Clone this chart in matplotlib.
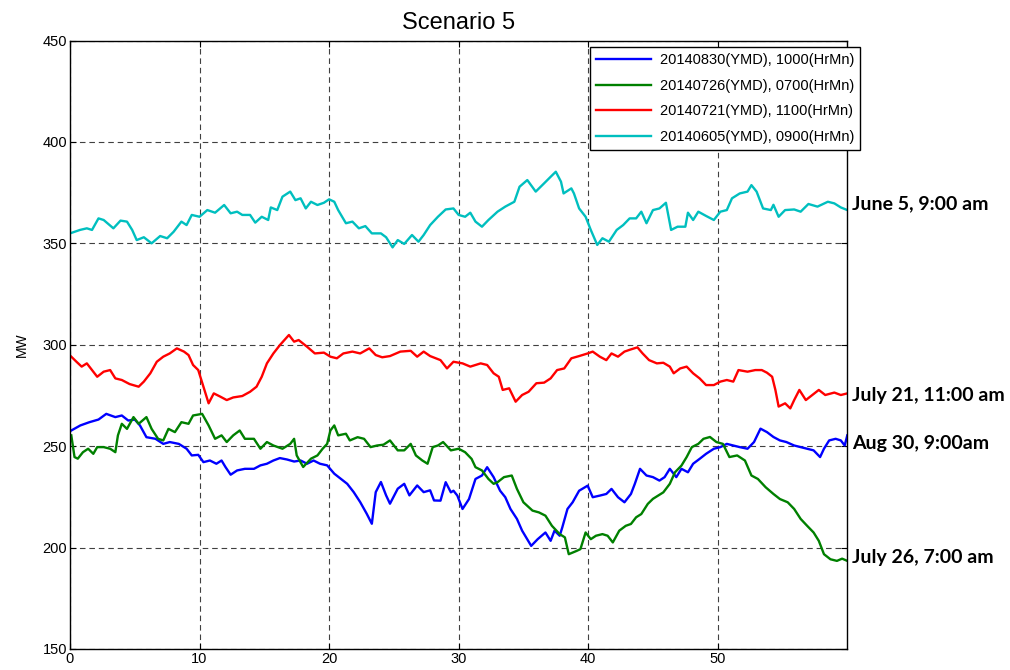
import matplotlib
matplotlib.use("Agg")
import matplotlib.pyplot as plt

# values (x in minutes, y in MW)
aug30_x = [0.1, 0.8, 1.5, 2.2, 2.8, 3.5, 4.0, 4.5, 5.0, 5.4, 5.9, 6.6, 7.2, 7.7, 8.4, 9.0, 9.4, 9.9,
           10.3, 10.8, 11.3, 11.7, 12.0, 12.4, 12.9, 13.5, 14.2, 14.7, 15.2, 15.7, 16.2, 16.75, 17.3,
           17.8, 18.3, 18.8, 19.3, 19.85, 20.4, 20.9, 21.4, 21.9, 22.4, 22.9, 23.3, 23.6, 24.0, 24.4,
           24.7, 25.3, 25.8, 26.2, 26.8, 27.3, 27.8, 28.1, 28.6, 29.0, 29.4, 29.6, 29.9, 30.3, 30.8,
           31.3, 31.8, 32.2, 32.7, 33.2, 33.6, 34.0, 34.5, 34.9, 35.6, 36.1, 36.7, 37.1, 37.4, 37.8,
           38.0, 38.4, 38.8, 39.3, 39.96, 40.35, 40.9, 41.4, 41.8, 42.3, 42.8, 43.3, 43.6, 44.0, 44.5,
           45.0, 45.5, 45.9, 46.3, 46.8, 47.2, 47.7, 48.1, 48.6, 49.1, 49.7, 50.2, 50.7, 51.2, 51.7,
           52.3, 52.8, 53.3, 53.8, 54.3, 54.8, 55.3, 55.9, 56.4, 56.9, 57.4, 57.9, 58.2, 58.6, 59.1,
           59.5, 59.8, 60.0]
aug30_y = [257.7, 260.2, 261.8, 263.1, 265.9, 264.3, 265.1, 262.6, 263.1, 260.2, 254.4, 253.6, 251.1,
           252.0, 251.1, 248.7, 245.4, 245.7, 242.1, 242.9, 241.3, 242.9, 239.7, 235.9, 238.0, 238.8,
           238.8, 240.5, 241.3, 242.9, 244.1, 243.4, 242.4, 242.9, 241.3, 242.9, 241.3, 240.5, 236.4,
           233.9, 231.4, 227.3, 222.4, 216.7, 211.7, 227.3, 232.3, 225.7, 221.6, 229.0, 231.4, 225.7,
           230.6, 227.3, 228.2, 223.2, 223.1, 232.2, 227.2, 228.0, 225.6, 219.0, 223.9, 233.8, 235.5,
           239.6, 234.7, 228.0, 224.8, 219.0, 214.1, 208.3, 200.8, 204.1, 207.4, 203.3, 208.3, 205.8,
           209.9, 219.0, 222.3, 228.0, 230.5, 224.8, 225.6, 226.4, 228.9, 224.8, 222.3, 226.4, 231.4,
           238.8, 235.5, 234.7, 233.0, 234.7, 238.8, 234.7, 238.8, 237.1, 241.3, 243.7, 246.2, 248.7,
           249.5, 251.1, 250.3, 249.5, 248.7, 252.0, 258.6, 256.9, 254.5, 252.8, 252.0, 250.3, 249.5,
           248.7, 247.9, 244.6, 248.7, 252.8, 253.6, 252.8, 250.3, 255.3]

jul26_x = [0.1, 0.35, 0.6, 1.0, 1.4, 1.8, 2.1, 2.6, 3.1, 3.5, 3.7, 4.0, 4.4, 4.9, 5.3, 5.9, 6.3, 6.8,
           7.2, 7.6, 8.1, 8.6, 9.15, 9.5, 10.2, 10.7, 11.2, 11.7, 12.1, 12.6, 13.1, 13.5, 14.2, 14.7,
           15.2, 15.7, 16.4, 17.0, 17.3, 17.5, 18.0, 18.6, 19.1, 19.5, 19.85, 20.1, 20.4, 20.7, 21.3,
           21.6, 22.2, 22.7, 23.2, 23.7, 24.2, 24.7, 25.3, 25.8, 26.3, 26.7, 27.2, 27.6, 28.0, 28.4,
           28.8, 29.4, 30.0, 30.5, 31.0, 31.3, 31.8, 32.3, 32.7, 33.0, 33.5, 34.1, 34.5, 35.0, 35.7,
           36.2, 36.7, 37.2, 37.8, 38.2, 38.5, 39.1, 39.4, 39.8, 40.2, 40.6, 41.1, 41.5, 41.9, 42.4,
           42.9, 43.3, 43.7, 44.1, 44.6, 45.0, 45.4, 45.8, 46.3, 46.7, 47.2, 47.6, 48.0, 48.5, 48.9,
           49.4, 49.9, 50.4, 50.9, 51.5, 52.1, 52.6, 53.1, 53.7, 54.3, 54.8, 55.4, 55.9, 56.4, 56.9,
           57.4, 57.8, 58.2, 58.7, 59.2, 59.6, 60.0]
jul26_y = [255.3, 244.6, 243.8, 247.0, 248.7, 246.2, 249.5, 249.5, 248.7, 247.0, 255.3, 261.0, 258.5,
           264.3, 261.0, 264.3, 258.5, 253.6, 252.8, 258.5, 256.9, 261.8, 261.0, 265.1, 265.9, 260.2,
           253.6, 255.3, 252.0, 255.3, 257.7, 253.6, 253.6, 248.7, 252.0, 250.3, 248.7, 251.1, 253.6,
           245.4, 239.7, 243.8, 245.4, 248.7, 251.1, 257.7, 260.2, 255.3, 256.1, 252.8, 254.4, 253.6,
           249.5, 250.3, 250.7, 252.8, 247.9, 247.9, 251.1, 245.4, 242.9, 241.3, 249.5, 250.3, 252.0,
           247.9, 248.7, 247.0, 243.7, 239.6, 238.0, 233.8, 231.4, 232.2, 234.7, 235.5, 228.9, 222.3,
           218.2, 217.3, 215.7, 210.7, 206.6, 205.0, 196.7, 198.3, 199.2, 207.4, 204.1, 205.8, 206.6,
           205.8, 202.5, 208.3, 210.7, 211.6, 214.9, 216.5, 221.5, 224.0, 225.6, 227.2, 231.4, 237.1,
           240.4, 244.6, 249.5, 251.1, 253.6, 254.5, 252.0, 251.1, 244.6, 245.4, 242.9, 235.5, 233.8,
           229.7, 226.4, 223.9, 222.3, 219.0, 214.1, 210.7, 207.4, 203.3, 196.7, 194.2, 193.4, 194.5,
           193.4]

jul21_x = [0.1, 0.5, 0.9, 1.3, 1.7, 2.1, 2.6, 3.1, 3.5, 4.0, 4.6, 5.3, 5.7, 6.2, 6.7, 7.2, 7.7, 8.25,
           8.8, 9.15, 9.5, 9.9, 10.3, 10.7, 11.1, 11.6, 12.1, 12.6, 13.3, 13.9, 14.4, 14.8, 15.2, 15.7,
           16.2, 16.9, 17.3, 17.65, 18.3, 18.9, 19.6, 20.1, 20.6, 21.1, 21.8, 22.4, 23.1, 23.6, 24.1,
           24.7, 25.5, 26.3, 26.8, 27.3, 27.8, 28.6, 29.1, 29.6, 30.3, 30.9, 31.7, 32.2, 32.7, 33.1,
           33.4, 33.9, 34.4, 34.9, 35.4, 36.0, 36.6, 37.1, 37.6, 38.15, 38.7, 39.3, 39.96, 40.35, 40.9,
           41.4, 41.8, 42.3, 42.8, 43.3, 43.8, 44.2, 44.7, 45.3, 45.8, 46.3, 46.6, 47.1, 47.6, 48.1,
           48.6, 49.1, 49.7, 50.2, 50.7, 51.2, 51.6, 52.3, 52.9, 53.4, 53.8, 54.2, 54.45, 54.7, 55.2,
           55.6, 55.9, 56.3, 56.8, 57.3, 57.8, 58.3, 59.0, 59.5, 60.0]
jul21_y = [294.1, 291.6, 289.2, 290.8, 287.5, 284.2, 286.7, 287.5, 283.4, 282.6, 280.6, 279.3, 281.8,
           285.9, 291.6, 294.1, 295.7, 298.2, 296.6, 294.9, 290.0, 287.5, 279.3, 271.1, 276.0, 274.4,
           272.7, 274.0, 274.7, 276.8, 279.3, 284.2, 290.8, 295.7, 299.8, 304.8, 301.5, 302.3, 299.0,
           295.7, 296.1, 294.1, 293.3, 295.7, 296.6, 295.7, 298.2, 294.9, 293.8, 294.4, 296.6, 297.0,
           294.1, 296.6, 294.4, 292.4, 288.3, 291.6, 290.8, 289.2, 290.8, 290.0, 285.9, 284.2, 277.7,
           278.5, 271.9, 275.2, 276.8, 281.0, 281.3, 283.4, 287.5, 288.3, 293.3, 294.4, 295.7, 296.6,
           294.1, 292.4, 295.7, 294.1, 296.6, 297.7, 298.7, 295.7, 292.4, 290.8, 291.1, 289.2, 285.9,
           288.3, 289.2, 285.9, 283.4, 280.1, 280.1, 281.8, 282.6, 281.8, 287.5, 286.7, 287.5, 287.5,
           286.2, 284.2, 277.7, 269.5, 271.1, 268.6, 272.7, 277.7, 272.7, 275.2, 277.7, 275.2, 276.4,
           275.2, 276.0]

jun05_x = [0.0, 0.77, 1.3, 1.7, 2.2, 2.6, 3.35, 3.9, 4.4, 4.8, 5.15, 5.7, 6.3, 6.96, 7.5, 8.0, 8.6,
           9.0, 9.4, 10.0, 10.6, 11.2, 11.9, 12.4, 12.9, 13.3, 13.9, 14.3, 14.8, 15.3, 15.5, 16.0,
           16.4, 17.0, 17.4, 17.8, 18.2, 18.6, 19.1, 19.6, 20.0, 20.4, 20.7, 21.3, 21.8, 22.3, 22.8,
           23.3, 24.0, 24.4, 24.9, 25.3, 25.8, 26.4, 26.9, 27.3, 27.8, 28.4, 29.0, 29.6, 30.0, 30.5,
           30.9, 31.3, 31.8, 32.3, 33.0, 33.6, 34.3, 34.7, 35.3, 35.95, 36.6, 37.1, 37.5, 37.9, 38.1,
           38.7, 38.9, 39.3, 39.8, 40.2, 40.7, 41.1, 41.6, 42.2, 42.7, 43.2, 43.7, 44.1, 44.5, 45.0,
           45.5, 46.0, 46.4, 46.9, 47.5, 47.7, 48.1, 48.5, 49.1, 49.7, 50.2, 50.7, 51.1, 51.7, 52.3,
           52.6, 53.0, 53.5, 54.1, 54.3, 54.7, 55.2, 55.9, 56.4, 57.0, 57.7, 58.5, 59.0, 59.5, 60.0]
jun05_y = [354.9, 356.6, 357.4, 356.6, 362.3, 361.5, 357.4, 361.2, 360.7, 356.6, 351.6, 353.0, 350.0,
           353.6, 352.5, 355.7, 360.7, 359.0, 364.0, 363.1, 366.4, 365.1, 368.9, 364.8, 365.6, 364.0,
           364.0, 360.2, 363.1, 361.5, 367.7, 366.4, 373.0, 375.5, 371.3, 372.2, 367.2, 370.5, 368.9,
           370.0, 371.7, 370.5, 366.4, 359.9, 360.7, 357.4, 358.5, 354.9, 354.9, 353.0, 348.0, 351.6,
           349.7, 354.1, 350.8, 354.1, 359.0, 363.1, 366.7, 367.2, 364.0, 363.1, 365.1, 360.7, 358.2,
           361.5, 365.6, 368.1, 370.5, 377.9, 381.2, 375.5, 379.6, 382.8, 385.3, 380.4, 374.6, 377.1,
           374.6, 367.2, 363.1, 356.6, 349.2, 352.5, 350.8, 356.6, 359.0, 362.3, 362.3, 365.6, 359.9,
           366.4, 367.2, 370.0, 356.6, 358.2, 358.2, 365.1, 361.5, 365.6, 363.5, 361.5, 365.6, 366.4,
           372.2, 374.6, 375.5, 378.7, 375.5, 367.2, 366.4, 369.0, 363.1, 366.4, 366.7, 365.6, 369.4,
           368.1, 370.5, 369.7, 367.7, 366.4]

series = [
    (aug30_x, aug30_y, "20140830(YMD), 1000(HrMn)", "#0000ff"),
    (jul26_x, jul26_y, "20140726(YMD), 0700(HrMn)", "#008000"),
    (jul21_x, jul21_y, "20140721(YMD), 1100(HrMn)", "#ff0000"),
    (jun05_x, jun05_y, "20140605(YMD), 0900(HrMn)", "#00bfbf"),
]

# right-hand annotations: (text, y in MW)
notes = [
    ("June 5, 9:00 am", 369.3),
    ("July 21, 11:00 am", 275.2),
    ("Aug 30, 9:00am", 251.1),
    ("July 26, 7:00 am", 194.9),
]

plt.rcParams["font.family"] = ["Liberation Sans", "DejaVu Sans"]

fig = plt.figure(figsize=(10.1, 6.7), dpi=100)
ax = fig.add_axes([0.0693, 0.0315, 0.7696, 0.908])

for x, y, label, color in series:
    ax.plot(x, y, color=color, lw=1.7, label=label)

ax.set_xlim(0, 60)
ax.set_ylim(150, 450)
ax.set_xticks(range(0, 60, 10))
ax.set_yticks(range(150, 451, 50))
ax.tick_params(direction="in", top=True, right=True, labelsize=10.5, length=4, pad=2)
ax.grid(True, color="0.25", linestyle=(0, (5, 3.5)), lw=0.8)
for sp in ax.spines.values():
    sp.set_linewidth(1.0)

ax.set_title("Scenario 5", fontsize=17, pad=8)
ax.set_ylabel("MW", fontsize=10, labelpad=10)

leg = ax.legend(loc="upper left", bbox_to_anchor=(0.669, 0.989), borderaxespad=0,
                fontsize=10.5, fancybox=False, framealpha=1, edgecolor="black",
                handlelength=3.8, handletextpad=0.6, labelspacing=0.8)
leg.get_frame().set_linewidth(1.0)

for text, yv in notes:
    ax.text(60.4, yv, text, fontsize=14, fontweight="bold", family=["Lato", "DejaVu Sans"],
            va="center", ha="left", clip_on=False)

fig.savefig("out.png", dpi=100)
plt.close(fig)
